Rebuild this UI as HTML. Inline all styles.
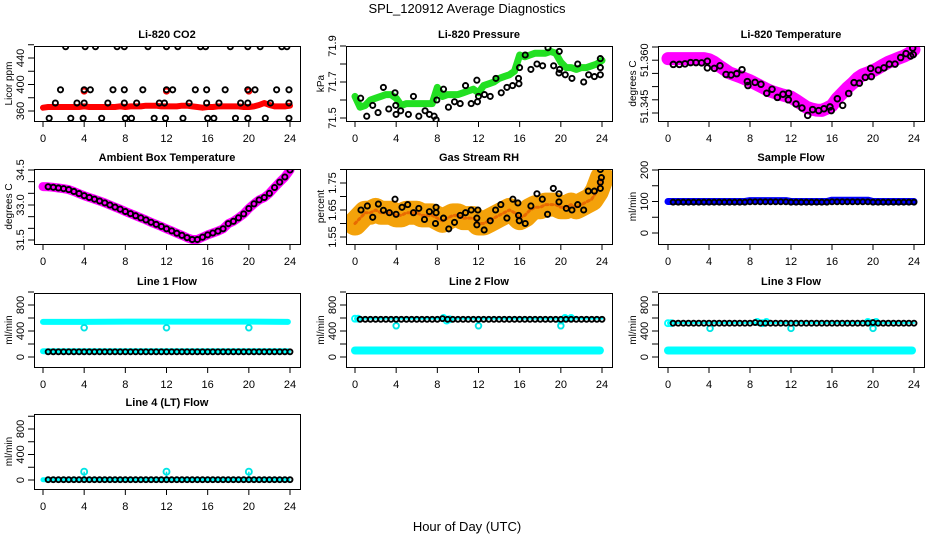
<!DOCTYPE html>
<html><head><meta charset="utf-8">
<style>
html,body{margin:0;padding:0;background:#fff;}
svg{display:block;font-family:"Liberation Sans",Arial,sans-serif;}
</style></head>
<body>
<svg id="chart" width="936" height="540" viewBox="0 0 936 540" xmlns="http://www.w3.org/2000/svg">
<rect x="0" y="0" width="936" height="540" fill="#fff"/>
<text x="467" y="13" text-anchor="middle" font-size="13">SPL_120912  Average Diagnostics</text>
<text x="467" y="531" text-anchor="middle" font-size="13">Hour of Day (UTC)</text>
</svg>
<script>
// ---------- data ----------
const xTicks = [0,4,8,12,16,20,24];
const H = [0,0.5,1,1.5,2,2.5,3,3.5,4,4.5,5,5.5,6,6.5,7,7.5,8,8.5,9,9.5,10,10.5,11,11.5,12,12.5,13,13.5,14,14.5,15,15.5,16,16.5,17,17.5,18,18.5,19,19.5,20,20.5,21,21.5,22,22.5,23,23.5,24];
const bandHours = [0,4,8,12,16,20,23.8];

const co2Band = [365,366,366,366,366,366,366,366,367,366,366,366,366,366,366,367,366,367,367,367,368,368,368,367,367,367,367,368,368,367,366,365,366,366,367,367,367,367,367,366,366,367,369,372,369,367,367,367,368];
const co2CircHours = [2.2,4.1,5.1,7.2,7.9,10.2,12.0,13.1,15.3,15.8,18.2,19.9,21.1,23.2,23.7,
 1.7,4.0,4.6,6.8,7.9,9.7,12.0,12.6,14.8,15.9,17.7,19.9,20.6,22.7,23.9,
 1.2,3.3,4.0,6.3,7.9,9.1,11.3,11.8,14.2,15.9,17.1,19.2,19.9,22.1,23.9,
 0.6,2.7,3.9,5.7,8.0,8.6,10.8,11.9,13.6,16.0,16.6,18.7,19.9,21.6,23.9];
const co2CircVals = [457,457,457,457,457,457,457,457,457,457,457,457,457,457,457,
 392,392,392,392,392,392,392,392,392,392,392,392,392,392,392,
 372,372,372,372,372,372,372,372,372,372,372,372,372,372,372,
 349,349,349,349,349,349,349,349,349,349,349,349,349,349,349];
const co2RedHours = [4,12,20];
const co2RedVals = [390,390,390];

const presBand = [71.62,71.56,71.57,71.60,71.61,71.62,71.63,71.63,71.61,71.57,71.58,71.58,71.58,71.58,71.58,71.58,71.67,71.62,71.63,71.63,71.63,71.64,71.65,71.66,71.64,71.68,71.69,71.70,71.72,71.73,71.74,71.76,71.85,71.84,71.85,71.86,71.86,71.86,71.87,71.86,71.81,71.78,71.78,71.77,71.78,71.78,71.79,71.80,71.82];
const presCircHours = [0.55,1.14,1.72,2.24,2.76,3.28,3.89,3.96,3.99,4.44,5.19,5.68,6.2,6.81,7.23,7.69,7.88,7.95,8.6,9.08,9.67,10.22,10.74,11.29,11.84,11.9,12.0,12.58,13.14,13.69,14.21,14.76,15.31,15.89,15.93,15.99,16.54,17.09,17.68,18.23,18.75,19.3,19.85,19.82,19.88,20.43,21.08,21.64,22.22,22.7,23.26,23.84,23.84,23.84];
const presCircVals = [71.61,71.51,71.57,71.53,71.67,71.55,71.64,71.57,71.52,71.54,71.52,71.62,71.51,71.54,71.52,71.51,71.49,71.6,71.66,71.56,71.59,71.58,71.68,71.58,71.71,71.59,71.62,71.63,71.62,71.72,71.64,71.67,71.68,71.72,71.69,71.78,71.85,71.77,71.8,71.79,71.89,71.79,71.87,71.75,71.77,71.74,71.72,71.8,71.7,71.74,71.73,71.83,71.78,71.74];

const tempBand = [51.3606,51.3606,51.3606,51.3606,51.3606,51.3606,51.3606,51.3606,51.3602,51.3592,51.3578,51.3565,51.3552,51.3545,51.3538,51.3530,51.3522,51.3512,51.3502,51.3492,51.3483,51.3476,51.3470,51.3465,51.3460,51.3448,51.3435,51.3422,51.3415,51.3411,51.3410,51.3418,51.3428,51.3455,51.3475,51.3495,51.3512,51.3532,51.3545,51.3552,51.3560,51.3570,51.3582,51.3592,51.3600,51.3608,51.3615,51.3625,51.3640];
const tempCircHours = [0.52,1.11,1.66,2.21,2.73,3.28,3.84,3.84,4.52,5.07,5.66,6.15,6.70,7.22,7.74,7.80,8.49,9.07,9.63,10.15,10.67,11.22,11.77,11.74,12.49,13.07,13.63,14.11,14.70,15.22,15.80,15.93,16.52,17.04,17.63,18.15,18.67,19.25,19.77,19.84,20.52,21.07,21.59,22.15,22.70,23.22,23.67,23.87,23.93];
const tempCircVals = [51.3584,51.3584,51.3586,51.3591,51.3591,51.3590,51.3596,51.3571,51.3569,51.3579,51.3546,51.3544,51.3549,51.3564,51.3519,51.3504,51.3516,51.3509,51.3475,51.3490,51.3459,51.3471,51.3475,51.3450,51.3434,51.3419,51.3391,51.3413,51.3409,51.3416,51.3423,51.3409,51.3454,51.3429,51.3474,51.3515,51.3513,51.3535,51.3569,51.3538,51.3563,51.3571,51.3585,51.3585,51.3610,51.3625,51.3616,51.3646,51.3621];

const ambBand = [33.79,33.78,33.76,33.73,33.70,33.66,33.58,33.49,33.40,33.32,33.25,33.17,33.09,33.00,32.91,32.82,32.72,32.63,32.54,32.45,32.36,32.26,32.17,32.08,31.98,31.89,31.79,31.70,31.60,31.52,31.52,31.62,31.72,31.80,31.88,31.98,32.20,32.30,32.45,32.62,32.85,33.05,33.22,33.32,33.50,33.75,33.98,34.20,34.50];

const rhBand = [1.60,1.62,1.64,1.64,1.65,1.64,1.64,1.64,1.63,1.63,1.64,1.64,1.64,1.63,1.63,1.63,1.62,1.61,1.62,1.63,1.63,1.62,1.62,1.62,1.60,1.60,1.61,1.62,1.63,1.64,1.65,1.64,1.62,1.63,1.65,1.66,1.66,1.67,1.67,1.67,1.66,1.66,1.67,1.66,1.67,1.68,1.69,1.72,1.77];
const rhCircHours = [0.58,1.2,1.72,2.27,2.76,3.34,3.89,3.99,4.57,5.12,5.68,6.2,6.75,7.23,7.88,7.88,7.82,8.6,9.11,9.67,10.22,10.74,11.29,11.94,11.84,11.84,12.55,13.14,13.66,14.17,14.76,15.34,15.83,15.89,15.96,16.54,17.09,17.68,18.2,18.71,19.27,19.82,19.82,20.53,21.08,21.64,22.22,22.67,23.26,23.84,23.84,23.94,23.84];
const rhCircVals = [1.65,1.665,1.623,1.672,1.649,1.64,1.69,1.634,1.66,1.67,1.64,1.656,1.615,1.644,1.66,1.64,1.60,1.62,1.58,1.604,1.63,1.64,1.65,1.65,1.62,1.595,1.576,1.61,1.65,1.67,1.62,1.69,1.676,1.63,1.61,1.60,1.665,1.71,1.69,1.634,1.73,1.71,1.68,1.656,1.65,1.67,1.65,1.72,1.72,1.73,1.753,1.77,1.80];

const sampleBand = [100,100,100,100,100,100,100,100,100,100,100,100,100,100,100,100,103,103,103,103,103,103,103,103,100,100,100,100,100,100,100,100,104,104,104,104,104,104,104,104,100,100,100,100,100,100,100,100,100];
const sampleCirc = [98,98,98,98,98,98,98,98,98,98,98,98,98,98,98,98,99,99,99,99,99,99,99,99,98,98,98,98,98,98,98,98,99,99,99,99,99,99,99,99,98,98,98,98,98,98,98,98,98];

const line1Hi = [540,540,545,545,545,545,540];
const line1Lo = [88,88,88,88,88,88,88];
const line1Circ = [80,80,80,80,80,80,80,80,80,80,80,80,80,80,80,80,80,80,80,80,80,80,80,80,80,80,80,80,80,80,80,80,80,80,80,80,80,80,80,80,80,80,80,80,80,80,80,80,80];
const line1DipHours = [4,12,20];
const line1DipVals = [450,450,450];

const line2Lo = [100,100,100,100,100,100,100];
const line2Circ = [580,580,580,580,580,580,580,580,580,580,580,580,580,580,580,580,580,590,580,580,580,580,580,580,580,580,580,580,580,580,580,580,580,580,580,580,580,580,580,580,580,580,580,580,580,580,580,580,580];
const line2CyanHours = [0,0.3,8.6,8.9,9.2,20.0,20.4,21.0];
const line2CyanVals = [590,590,600,560,580,560,600,600];
const line2DipHours = [4,12,20];
const line2DipVals = [480,480,480];

const line3Lo = [100,100,100,100,100,100,100];
const line3Circ = [520,520,520,520,520,520,520,520,520,520,520,520,520,520,520,520,520,530,520,520,520,520,520,520,520,520,520,520,520,520,520,520,520,520,520,520,520,520,520,520,530,520,520,520,520,520,520,520,520];
const line3CyanHours = [0,0.3,8.7,9.2,9.6,19.5,19.9,20.3];
const line3CyanVals = [520,520,540,520,540,540,520,540];
const line3DipHours = [4.1,12,20];
const line3DipVals = [440,440,440];

const line4Lo = [5,5,5,5,5,5,5];
const line4Circ = [5,5,5,5,5,5,5,5,5,5,5,5,5,5,5,5,5,5,5,5,5,5,5,5,5,5,5,5,5,5,5,5,5,5,5,5,5,5,5,5,5,5,5,5,5,5,5,5,5];
const line4DipHours = [4,12,20];
const line4DipVals = [130,130,130];

// ---------- drawing ----------
const NS = "http://www.w3.org/2000/svg";
const svg = document.getElementById('chart');
function mk(tag, attrs, parent){
  const e = document.createElementNS(NS, tag);
  for (const k in attrs) e.setAttribute(k, attrs[k]);
  (parent || svg).appendChild(e);
  return e;
}
const COLS = [{L:34,R:300,a:43,b:290},{L:346,R:612,a:355,b:602},{L:658,R:924,a:668,b:914}];
const ROWS = [{T:46,B:121},{T:169,B:244},{T:293,B:367},{T:414,B:489}];

function panel(cfg){
  const c = COLS[cfg.col], r = ROWS[cfg.row];
  const g = mk('g', {});
  
  
  const x = h => c.a + (c.b - c.a) * h / 24;
  const y = v => cfg.p1 + (v - cfg.v1) * (cfg.p2 - cfg.p1) / (cfg.v2 - cfg.v1);
  const clipId = 'clip-' + cfg.name;
  const cp = mk('clipPath', {id: clipId}, g);
  mk('rect', {x:c.L, y:r.T, width:c.R-c.L, height:r.B-r.T}, cp);
  const plot = mk('g', {'clip-path': 'url(#' + clipId + ')'}, g);
  
  
  const t = mk('text', {x:(c.L+c.R)/2, y:r.T-8, 'text-anchor':'middle', 'font-size':11, 'font-weight':'bold'}, g);
  t.textContent = cfg.title;
  
  
  const yl = mk('text', {x:0, y:0, 'text-anchor':'middle', 'font-size':10, transform:'translate(' + (c.L-22) + ',' + ((r.T+r.B)/2) + ') rotate(-90)'}, g);
  yl.textContent = cfg.ylab;
  
  
  cfg.yticks.forEach(v => {
    const tk = mk('line', {x1:c.L-6, x2:c.L, y1:y(v), y2:y(v), stroke:'#000', 'stroke-width':1}, g);
    
    
  });
  cfg.ylabels.forEach((s, i) => {
    const v = cfg.ylabelVals[i];
    const lt = mk('text', {x:0, y:0, 'text-anchor':'middle', 'font-size':11, transform:'translate(' + (c.L-10) + ',' + y(v) + ') rotate(-90)'}, g);
    lt.textContent = s;
    
    
  });
  xTicks.forEach(h => {
    const tk = mk('line', {x1:x(h), x2:x(h), y1:r.B, y2:r.B+6, stroke:'#000', 'stroke-width':1}, g);
    
    
    const lt = mk('text', {x:x(h), y:r.B+21, 'text-anchor':'middle', 'font-size':11}, g);
    lt.textContent = String(h);
    
    
  });
  const box = mk('rect', {x:c.L+0.5, y:r.T+0.5, width:c.R-c.L, height:r.B-r.T, fill:'none', stroke:'#000', 'stroke-width':1}, g);
  
  
  return {x, y, g: plot, frame: box};
}
function band(p, hs, vs, color, w, name){
  const pts = hs.map((h, i) => p.x(h).toFixed(1) + ',' + p.y(vs[i]).toFixed(1)).join(' ');
  const pl = mk('polyline', {points:pts, fill:'none', stroke:color, 'stroke-width':w, 'stroke-linecap':'round', 'stroke-linejoin':'round'}, p.g);
  
  
  return pl;
}
function dots(p, hs, vs, color, r, name){
  hs.forEach((h, i) => {
    const c = mk('circle', {cx:p.x(h), cy:p.y(vs[i]), r:r, fill:'none', stroke:color, 'stroke-width':1.9}, p.g);
    
    
  });
}
function stems(p, hs, vs, base, color, name){
  hs.forEach((h, i) => {
    const l = mk('line', {x1:p.x(h), x2:p.x(h), y1:p.y(base), y2:p.y(vs[i]), stroke:color, 'stroke-width':1.5}, p.g);
    
    
  });
}
const flowTicks = [0,200,400,600,800,1000];

let p = panel({name:'co2', col:0, row:0, title:'Li-820 CO2', ylab:'Licor ppm', v1:360, p1:111, v2:440, p2:58,
  yticks:[360,380,400,420,440,460], ylabels:['360','400','440'], ylabelVals:[360,400,440]});
band(p, H, co2Band, '#ff0000', 6, 'co2-band');
dots(p, co2RedHours, co2RedVals, '#ff0000', 2.6, 'co2-red-point');
dots(p, co2CircHours, co2CircVals, '#000', 2.6, 'co2-hourly-point');

p = panel({name:'pressure', col:1, row:0, title:'Li-820 Pressure', ylab:'kPa', v1:71.5, p1:118, v2:71.9, p2:46,
  yticks:[71.5,71.6,71.7,71.8,71.9], ylabels:['71.5','71.7','71.9'], ylabelVals:[71.5,71.7,71.9]});
band(p, H, presBand, '#22e022', 7, 'pressure-band');
dots(p, presCircHours, presCircVals, '#000', 2.6, 'pressure-hourly-point');

p = panel({name:'temperature', col:2, row:0, title:'Li-820 Temperature', ylab:'degrees C', v1:51.340, p1:113, v2:51.365, p2:47,
  yticks:[51.340,51.345,51.350,51.355,51.360,51.365], ylabels:['51.345','51.360'], ylabelVals:[51.3425,51.360]});
band(p, H, tempBand, '#ff00ff', 13, 'temperature-band');
dots(p, tempCircHours, tempCircVals, '#000', 2.8, 'temperature-hourly-point');

p = panel({name:'ambient', col:0, row:1, title:'Ambient Box Temperature', ylab:'degrees C', v1:31.5, p1:240, v2:34.5, p2:170,
  yticks:[31.5,32,32.5,33,33.5,34,34.5], ylabels:['31.5','33.0','34.5'], ylabelVals:[31.5,33,34.5]});
band(p, H, ambBand, '#ff00ff', 9, 'ambient-band');
dots(p, H.slice(1), ambBand.slice(1), '#000', 2.6, 'ambient-hourly-point');

p = panel({name:'rh', col:1, row:1, title:'Gas Stream RH', ylab:'percent', v1:1.55, p1:237, v2:1.75, p2:183,
  yticks:[1.55,1.60,1.65,1.70,1.75,1.80], ylabels:['1.55','1.65','1.75'], ylabelVals:[1.55,1.65,1.75]});
band(p, H, rhBand, '#f4a20a', 24, 'rh-band');
band(p, H, rhBand, '#e86a00', 3, 'rh-band-core').setAttribute('stroke-dasharray', '2 3');
dots(p, rhCircHours, rhCircVals, '#000', 2.6, 'rh-hourly-point');

p = panel({name:'sample-flow', col:2, row:1, title:'Sample Flow', ylab:'ml/min', v1:0, p1:233, v2:200, p2:170,
  yticks:[0,50,100,150,200], ylabels:['0','100','200'], ylabelVals:[0,100,200]});
band(p, H, sampleBand, '#0000ff', 7, 'sample-flow-band');
dots(p, H.slice(1), sampleCirc.slice(1), '#000', 2.5, 'sample-flow-hourly-point');

p = panel({name:'line1', col:0, row:2, title:'Line 1 Flow', ylab:'ml/min', v1:0, p1:357, v2:800, p2:305,
  yticks:flowTicks, ylabels:['0','400','800'], ylabelVals:[0,400,800]});
band(p, bandHours, line1Hi, '#00ffff', 6, 'line1-high-band');
band(p, bandHours, line1Lo, '#00ffff', 6, 'line1-low-band');
dots(p, line1DipHours, line1DipVals, '#00e5e5', 2.8, 'line1-dip-point');
dots(p, H.slice(1), line1Circ.slice(1), '#000', 2.5, 'line1-hourly-point');

p = panel({name:'line2', col:1, row:2, title:'Line 2 Flow', ylab:'ml/min', v1:0, p1:357, v2:800, p2:305,
  yticks:flowTicks, ylabels:['0','400','800'], ylabelVals:[0,400,800]});
band(p, bandHours, line2Lo, '#00ffff', 8, 'line2-low-band');
band(p, [0,24], [590,590], '#00ffff', 2, 'line2-high-trace');
dots(p, line2CyanHours, line2CyanVals, '#00ffff', 3, 'line2-cyan-point');
dots(p, line2DipHours, line2DipVals, '#00e5e5', 2.8, 'line2-dip-point');
dots(p, H.slice(1), line2Circ.slice(1), '#000', 2.5, 'line2-hourly-point');

p = panel({name:'line3', col:2, row:2, title:'Line 3 Flow', ylab:'ml/min', v1:0, p1:357, v2:800, p2:305,
  yticks:flowTicks, ylabels:['0','400','800'], ylabelVals:[0,400,800]});
band(p, bandHours, line3Lo, '#00ffff', 8, 'line3-low-band');
band(p, [0,24], [525,525], '#00ffff', 2, 'line3-high-trace');
dots(p, line3CyanHours, line3CyanVals, '#00ffff', 3, 'line3-cyan-point');
dots(p, line3DipHours, line3DipVals, '#00e5e5', 2.8, 'line3-dip-point');
dots(p, H.slice(1), line3Circ.slice(1), '#000', 2.5, 'line3-hourly-point');

p = panel({name:'line4', col:0, row:3, title:'Line 4 (LT) Flow', ylab:'ml/min', v1:0, p1:480, v2:800, p2:429,
  yticks:flowTicks, ylabels:['0','400','800'], ylabelVals:[0,400,800]});
band(p, bandHours, line4Lo, '#00ffff', 5, 'line4-low-band');
stems(p, line4DipHours, line4DipVals, 0, '#00e5e5', 'line4-dip-stem');
dots(p, line4DipHours, line4DipVals, '#00e5e5', 3, 'line4-dip-point');
dots(p, H.slice(1), line4Circ.slice(1), '#000', 2.5, 'line4-hourly-point');
</script>
</body></html>
